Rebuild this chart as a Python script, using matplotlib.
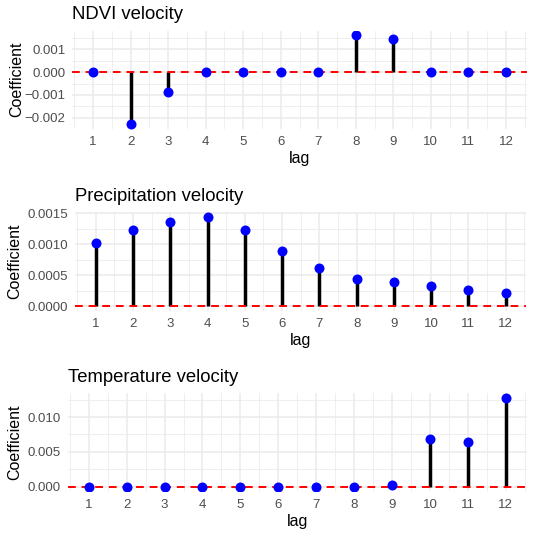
import matplotlib
matplotlib.use("Agg")
import matplotlib.pyplot as plt
import numpy as np

lags = list(range(1, 13))
ndvi = [0.0, -0.00227, -0.00085, 0.0, 0.0, 0.0, 0.0, 0.00161, 0.00144, 0.0, 0.0, 0.0]
precip = [0.00102, 0.001225, 0.001365, 0.001446, 0.001225, 0.000896, 0.00062,
          0.000437, 0.000389, 0.00033, 0.00026, 0.000216]
temp = [0.0, 0.0, 0.0, 0.0, 0.0, 0.0, 0.0, 0.0, 0.00019, 0.00689, 0.00646, 0.01278]

titles = ["NDVI velocity", "Precipitation velocity", "Temperature velocity"]
series = [ndvi, precip, temp]
yticks = [[-0.002, -0.001, 0.0, 0.001],
          [0.0, 0.0005, 0.0010, 0.0015],
          [0.0, 0.005, 0.010]]
yticklabels = [["\u22120.002", "\u22120.001", "0.000", "0.001"],
               ["0.0000", "0.0005", "0.0010", "0.0015"],
               ["0.000", "0.005", "0.010"]]
yminor = [[-0.0015, -0.0005, 0.0005, 0.0015],
          [0.00025, 0.00075, 0.00125],
          [0.0025, 0.0075, 0.0125]]

W, H = 533, 535
plt.rcParams['font.family'] = ['Liberation Sans', 'DejaVu Sans']
fig = plt.figure(figsize=(W / 100, H / 100), dpi=100)
fig.patch.set_facecolor("white")

# panel boxes in pixels: left, right, top, bottom
boxes = [(72.4, 526.6, 30.6, 128.6),
         (75.2, 526.2, 212.3, 310.5),
         (67.9, 526.6, 393.2, 491.2)]
ylab_x = [17, 15, 15]

grid_col = "#EBEBEB"
for i in range(3):
    l, r, t, b = boxes[i]
    ax = fig.add_axes([l / W, 1 - b / H, (r - l) / W, (b - t) / H])
    vals = np.array(series[i])
    x = np.array(lags)
    ax.set_xlim(0.45, 12.55)
    lo = min(0, vals.min()); hi = max(0, vals.max())
    ext = (hi - lo) * 0.05
    ax.set_ylim(lo - ext, hi + ext)
    for s in ax.spines.values():
        s.set_visible(False)
    # grids
    for xm in np.arange(0.5, 13.0, 1.0):
        ax.axvline(xm, color=grid_col, lw=0.55, zorder=0)
    for xv in lags:
        ax.axvline(xv, color=grid_col, lw=1.1, zorder=0)
    for ym in yminor[i]:
        ax.axhline(ym, color=grid_col, lw=0.55, zorder=0)
    for yv in yticks[i]:
        ax.axhline(yv, color=grid_col, lw=1.1, zorder=0)
    ax.vlines(x, 0, vals, color="black", lw=2.5, zorder=2)
    ax.axhline(0, color="#FF0000", lw=1.4, dashes=(4, 3), zorder=3)
    ax.plot(x, vals, 'o', color="#0000FF", ms=7.2, mew=0, zorder=4)
    ax.set_xticks(lags)
    ax.set_xticklabels([str(v) for v in lags])
    ax.set_yticks(yticks[i])
    ax.set_yticklabels(yticklabels[i])
    ax.tick_params(length=0, labelsize=9.5, labelcolor="#4D4D4D")
    ax.tick_params(axis='x', pad=5.5)
    ax.tick_params(axis='y', pad=5)
    ax.set_title(titles[i], loc='left', fontsize=13.3, pad=8, color="black")
    fig.text(((l + r) / 2) / W, 1 - (b + 34.7) / H, "lag", ha='center', va='baseline',
             fontsize=11.5)
    fig.text(ylab_x[i] / W, 1 - ((t + b) / 2) / H, "Coefficient", rotation=90,
             ha='center', va='center', fontsize=11.5)

fig.savefig("out.png", dpi=100, facecolor="white")
